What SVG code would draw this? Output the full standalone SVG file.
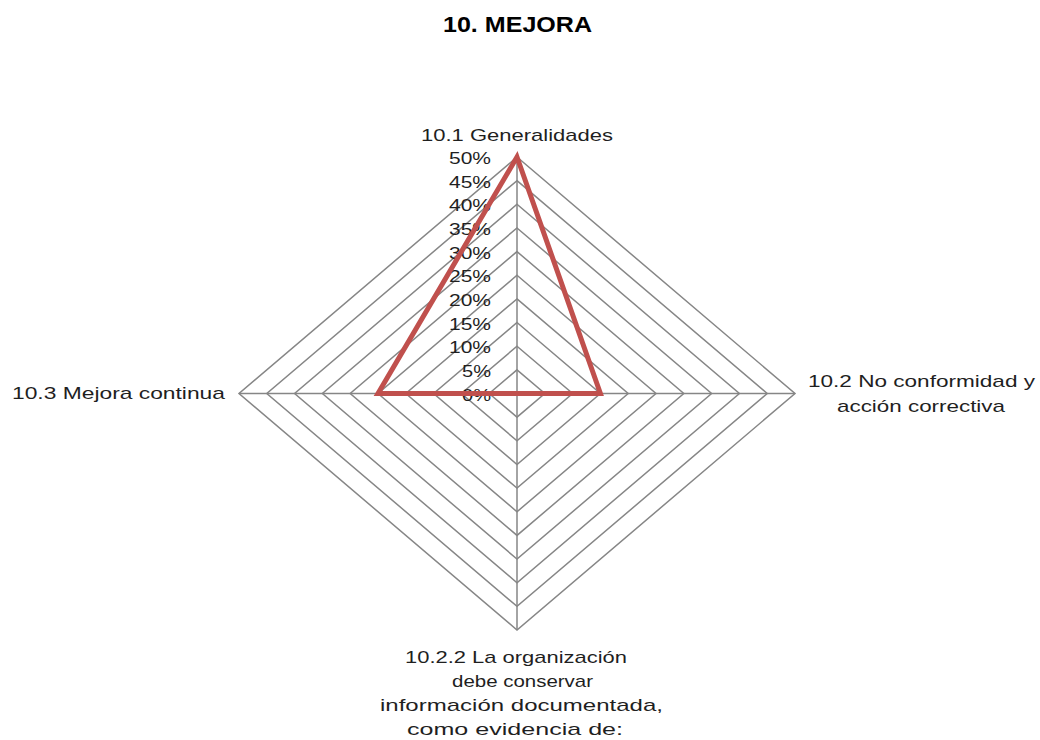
<svg xmlns="http://www.w3.org/2000/svg" width="1040" height="740" viewBox="0 0 1040 740">
  <style>
    .grid { fill: none; stroke: #868686; stroke-width: 1.5; }
    .spoke { stroke: #868686; stroke-width: 1.5; }
    .series { fill: none; stroke: #C0504D; stroke-width: 5; stroke-linejoin: miter; }
    .lbl { font-family: "Liberation Sans", Arial, sans-serif; font-size: 17px; fill: #1f1f1f; }
    .tick { font-family: "Liberation Sans", Arial, sans-serif; font-size: 17px; fill: #1f1f1f; text-anchor: end; }
    .title { font-family: "Liberation Sans", Arial, sans-serif; font-size: 22px; font-weight: bold; fill: #000; }
  </style>
  <rect width="1040" height="740" fill="#ffffff"/>

  <!-- chart title -->
  <text class="title" x="443" y="32" textLength="149" lengthAdjust="spacingAndGlyphs">10. MEJORA</text>

  <!-- radar grid: 10 rings, 5% each; centre (517,393.5), rx 27.8, ry 23.65 per ring -->
  <g id="grid">
    <polygon class="grid" points="517,369.85 544.8,393.5 517,417.15 489.2,393.5"/>
    <polygon class="grid" points="517,346.2 572.6,393.5 517,440.8 461.4,393.5"/>
    <polygon class="grid" points="517,322.55 600.4,393.5 517,464.45 433.6,393.5"/>
    <polygon class="grid" points="517,298.9 628.2,393.5 517,488.1 405.8,393.5"/>
    <polygon class="grid" points="517,275.25 656,393.5 517,511.75 378,393.5"/>
    <polygon class="grid" points="517,251.6 683.8,393.5 517,535.4 350.2,393.5"/>
    <polygon class="grid" points="517,227.95 711.6,393.5 517,559.05 322.4,393.5"/>
    <polygon class="grid" points="517,204.3 739.4,393.5 517,582.7 294.6,393.5"/>
    <polygon class="grid" points="517,180.65 767.2,393.5 517,606.35 266.8,393.5"/>
    <polygon class="grid" points="517,157 795,393.5 517,630 239,393.5"/>
    <line class="spoke" x1="517" y1="393.5" x2="517" y2="157"/>
    <line class="spoke" x1="517" y1="393.5" x2="795" y2="393.5"/>
    <line class="spoke" x1="517" y1="393.5" x2="517" y2="630"/>
    <line class="spoke" x1="517" y1="393.5" x2="239" y2="393.5"/>
  </g>

  <!-- value axis labels -->
  <g id="axis-ticks">
    <text class="tick" x="491" y="400.5" textLength="29" lengthAdjust="spacingAndGlyphs">0%</text>
    <text class="tick" x="491" y="376.85" textLength="29" lengthAdjust="spacingAndGlyphs">5%</text>
    <text class="tick" x="491" y="353.2" textLength="42" lengthAdjust="spacingAndGlyphs">10%</text>
    <text class="tick" x="491" y="329.55" textLength="42" lengthAdjust="spacingAndGlyphs">15%</text>
    <text class="tick" x="491" y="305.9" textLength="42" lengthAdjust="spacingAndGlyphs">20%</text>
    <text class="tick" x="491" y="282.25" textLength="42" lengthAdjust="spacingAndGlyphs">25%</text>
    <text class="tick" x="491" y="258.6" textLength="42" lengthAdjust="spacingAndGlyphs">30%</text>
    <text class="tick" x="491" y="234.95" textLength="42" lengthAdjust="spacingAndGlyphs">35%</text>
    <text class="tick" x="491" y="211.3" textLength="42" lengthAdjust="spacingAndGlyphs">40%</text>
    <text class="tick" x="491" y="187.65" textLength="42" lengthAdjust="spacingAndGlyphs">45%</text>
    <text class="tick" x="491" y="164" textLength="42" lengthAdjust="spacingAndGlyphs">50%</text>
  </g>

  <!-- data series: 50%, 15%, 0%, 25% -->
  <g id="series">
    <polygon class="series" points="517,157 600.4,393.5 517,393.5 378,393.5"/>
  </g>

  <!-- category labels -->
  <g id="cat-generalidades">
    <text class="lbl" x="421" y="141" textLength="192" lengthAdjust="spacingAndGlyphs">10.1 Generalidades</text>
  </g>
  <g id="cat-no-conformidad">
    <text class="lbl" x="808" y="387" textLength="227" lengthAdjust="spacingAndGlyphs">10.2 No conformidad y</text>
    <text class="lbl" x="837" y="412" textLength="168" lengthAdjust="spacingAndGlyphs">acción correctiva</text>
  </g>
  <g id="cat-informacion">
    <text class="lbl" x="405" y="663" textLength="222" lengthAdjust="spacingAndGlyphs">10.2.2 La organización</text>
    <text class="lbl" x="452" y="687" textLength="141" lengthAdjust="spacingAndGlyphs">debe conservar</text>
    <text class="lbl" x="380" y="711" textLength="283" lengthAdjust="spacingAndGlyphs">información documentada,</text>
    <text class="lbl" x="407" y="735" textLength="216" lengthAdjust="spacingAndGlyphs">como evidencia de:</text>
  </g>
  <g id="cat-mejora-continua">
    <text class="lbl" x="12" y="399" textLength="213" lengthAdjust="spacingAndGlyphs">10.3 Mejora continua</text>
  </g>
</svg>
